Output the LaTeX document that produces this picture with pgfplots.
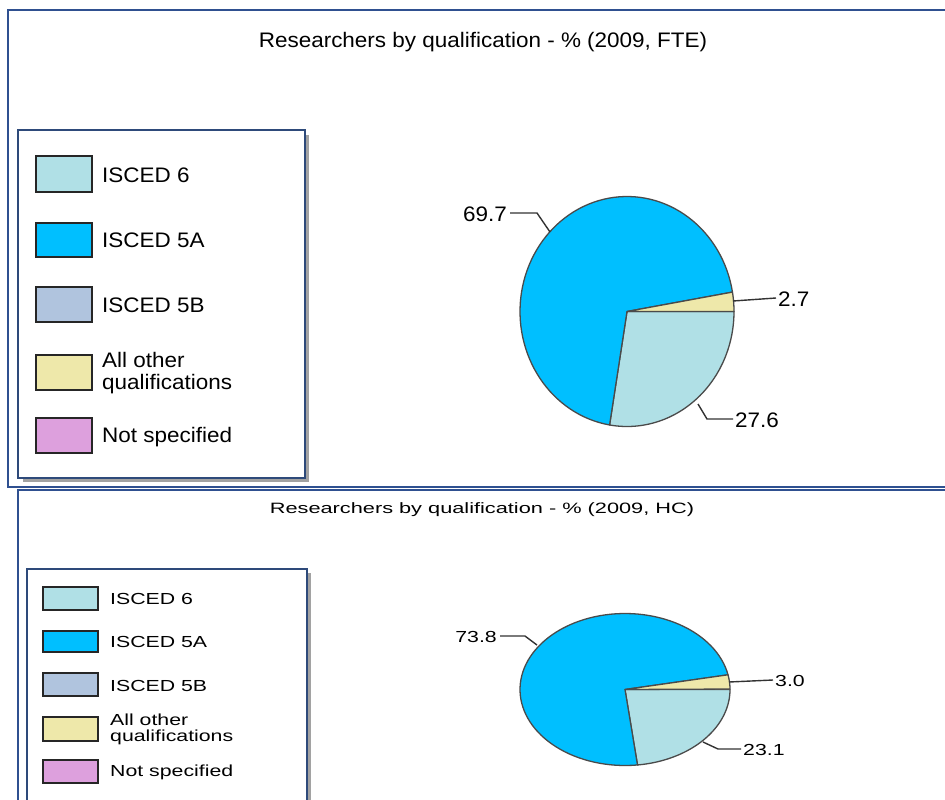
\documentclass[border=0pt]{standalone}
\usepackage{pgfplots}
\usepackage{graphicx}
\usepackage{fontspec}
\setmainfont{Liberation Sans}
\pgfplotsset{compat=1.18}

\definecolor{cSix}{HTML}{B0E0E6}
\definecolor{cFiveA}{HTML}{00BFFF}
\definecolor{cFiveB}{HTML}{B0C4DE}
\definecolor{cOther}{HTML}{EEE8AA}
\definecolor{cNot}{HTML}{DDA0DD}
\definecolor{pieedge}{HTML}{4A4A4A}
\definecolor{frame}{HTML}{2F5090}
\definecolor{boxframe}{HTML}{2E4A7A}
\definecolor{shadow}{HTML}{7A7A7A}

% data (percent)
\def\fteSix{27.6}  \def\fteFiveA{69.7} \def\fteOther{2.7}
\def\hcSix{23.1}   \def\hcFiveA{73.8}  \def\hcOther{3.0}

\pgfmathsetmacro\fA{-3.6*\fteSix}
\pgfmathsetmacro\fB{-3.6*(\fteSix+\fteFiveA)}
\pgfmathsetmacro\fC{-3.6*(\fteSix+\fteFiveA+\fteOther)}
\pgfmathsetmacro\hA{-3.6*\hcSix}
\pgfmathsetmacro\hB{-3.6*(\hcSix+\hcFiveA)}
\pgfmathsetmacro\hC{-3.6*(\hcSix+\hcFiveA+\hcOther)}

% cx cy rx ry start end colour
\newcommand\pieslice[7]{%
  \addplot[fill=#7, draw=pieedge, line width=1.3pt, line join=round,
    domain=#5:#6, samples=90, variable=\t]
    ({#1+#3*cos(t)},{#2-#4*sin(t)}) -- (axis cs:#1,#2) -- cycle;}

\newcommand\topfont{\fontsize{21}{24}\selectfont}
\newcommand\botfont{\fontsize{16}{18}\selectfont}
\newcommand\TT[1]{\scalebox{1.07}[1]{\topfont #1}}
\newcommand\BT[1]{\scalebox{1.33}[1]{\botfont #1}}

\begin{document}
\begin{tikzpicture}
\begin{axis}[
  scale only axis, width=945pt, height=800pt,
  xmin=0, xmax=945, ymin=0, ymax=800, y dir=reverse,
  hide axis, clip=true]

% panel frames
\draw[frame, line width=2pt] (axis cs:8,10) rectangle (axis cs:960,487);
\draw[frame, line width=2pt] (axis cs:18,490) rectangle (axis cs:960,820);

% titles
\node at (axis cs:483,42) {\scalebox{1.07}[1]{\fontsize{21}{24}\selectfont Researchers by qualification - \% (2009, FTE)}};
\node at (axis cs:482,510) {\scalebox{1.45}[1]{\fontsize{15}{18}\selectfont Researchers by qualification - \% (2009, HC)}};

% ---------- top legend ----------
\fill[shadow!70] (axis cs:23,135) rectangle (axis cs:309,482);
\draw[boxframe, line width=1.6pt, fill=white] (axis cs:18,130) rectangle (axis cs:305,478);
\draw[black!85, line width=1.6pt, fill=cSix]   (axis cs:36,156) rectangle (axis cs:92,192);
\draw[black!85, line width=1.6pt, fill=cFiveA] (axis cs:36,223) rectangle (axis cs:92,257);
\draw[black!85, line width=1.6pt, fill=cFiveB] (axis cs:36,287) rectangle (axis cs:92,322);
\draw[black!85, line width=1.6pt, fill=cOther] (axis cs:36,355) rectangle (axis cs:92,390);
\draw[black!85, line width=1.6pt, fill=cNot]   (axis cs:36,418) rectangle (axis cs:92,453);
\node[anchor=west, inner sep=0pt] at (axis cs:102,175) {\TT{ISCED 6}};
\node[anchor=west, inner sep=0pt] at (axis cs:102,240) {\TT{ISCED 5A}};
\node[anchor=west, inner sep=0pt] at (axis cs:102,305) {\TT{ISCED 5B}};
\node[anchor=west, inner sep=0pt] at (axis cs:102,360) {\TT{All other}};
\node[anchor=west, inner sep=0pt] at (axis cs:102,384) {\TT{qualifications}};
\node[anchor=west, inner sep=0pt] at (axis cs:102,437) {\TT{Not specified}};

% ---------- top pie ----------
\pieslice{627}{311.5}{107}{115}{\fA}{0}{cSix}
\pieslice{627}{311.5}{107}{115}{\fB}{\fA}{cFiveA}
\pieslice{627}{311.5}{107}{115}{\fC}{\fB}{cOther}
\draw[black!80, line width=1.4pt] (axis cs:510,213) -- (axis cs:537,213) -- (axis cs:550,232);
\draw[black!80, line width=1.4pt] (axis cs:733,301) -- (axis cs:776,298);
\draw[black!80, line width=1.4pt] (axis cs:698,404) -- (axis cs:707,419) -- (axis cs:733,419);
\node[anchor=east, inner sep=0pt] at (axis cs:507,214) {\TT{69.7}};
\node[anchor=west, inner sep=0pt] at (axis cs:778,299) {\TT{2.7}};
\node[anchor=west, inner sep=0pt] at (axis cs:735,420) {\TT{27.6}};

% ---------- bottom legend ----------
\fill[shadow!70] (axis cs:31,573) rectangle (axis cs:311,820);
\draw[boxframe, line width=1.6pt, fill=white] (axis cs:27,569) rectangle (axis cs:307,815);
\draw[black!85, line width=1.6pt, fill=cSix]   (axis cs:43,587) rectangle (axis cs:98,610);
\draw[black!85, line width=1.6pt, fill=cFiveA] (axis cs:43,631) rectangle (axis cs:98,652);
\draw[black!85, line width=1.6pt, fill=cFiveB] (axis cs:43,673) rectangle (axis cs:98,696);
\draw[black!85, line width=1.6pt, fill=cOther] (axis cs:43,717) rectangle (axis cs:98,741);
\draw[black!85, line width=1.6pt, fill=cNot]   (axis cs:43,760) rectangle (axis cs:98,783);
\node[anchor=west, inner sep=0pt] at (axis cs:110,599) {\BT{ISCED 6}};
\node[anchor=west, inner sep=0pt] at (axis cs:110,642) {\BT{ISCED 5A}};
\node[anchor=west, inner sep=0pt] at (axis cs:110,686) {\BT{ISCED 5B}};
\node[anchor=west, inner sep=0pt] at (axis cs:110,720) {\BT{All other}};
\node[anchor=west, inner sep=0pt] at (axis cs:110,737) {\BT{qualifications}};
\node[anchor=west, inner sep=0pt] at (axis cs:110,772) {\BT{Not specified}};

% ---------- bottom pie ----------
\pieslice{625}{689.5}{105}{76}{\hA}{0}{cSix}
\pieslice{625}{689.5}{105}{76}{\hB}{\hA}{cFiveA}
\pieslice{625}{689.5}{105}{76}{\hC}{\hB}{cOther}
\draw[black!80, line width=1.4pt] (axis cs:500,636) -- (axis cs:525,636) -- (axis cs:537,645);
\draw[black!80, line width=1.4pt] (axis cs:729,682) -- (axis cs:773,680);
\draw[black!80, line width=1.4pt] (axis cs:703,742) -- (axis cs:718,749) -- (axis cs:741,749);
\node[anchor=east, inner sep=0pt] at (axis cs:497,637) {\BT{73.8}};
\node[anchor=west, inner sep=0pt] at (axis cs:775,681) {\BT{3.0}};
\node[anchor=west, inner sep=0pt] at (axis cs:743,750) {\BT{23.1}};

\end{axis}
\pgfresetboundingbox
\path[use as bounding box] (current axis.south west) rectangle (current axis.north east);
\end{tikzpicture}
\end{document}
